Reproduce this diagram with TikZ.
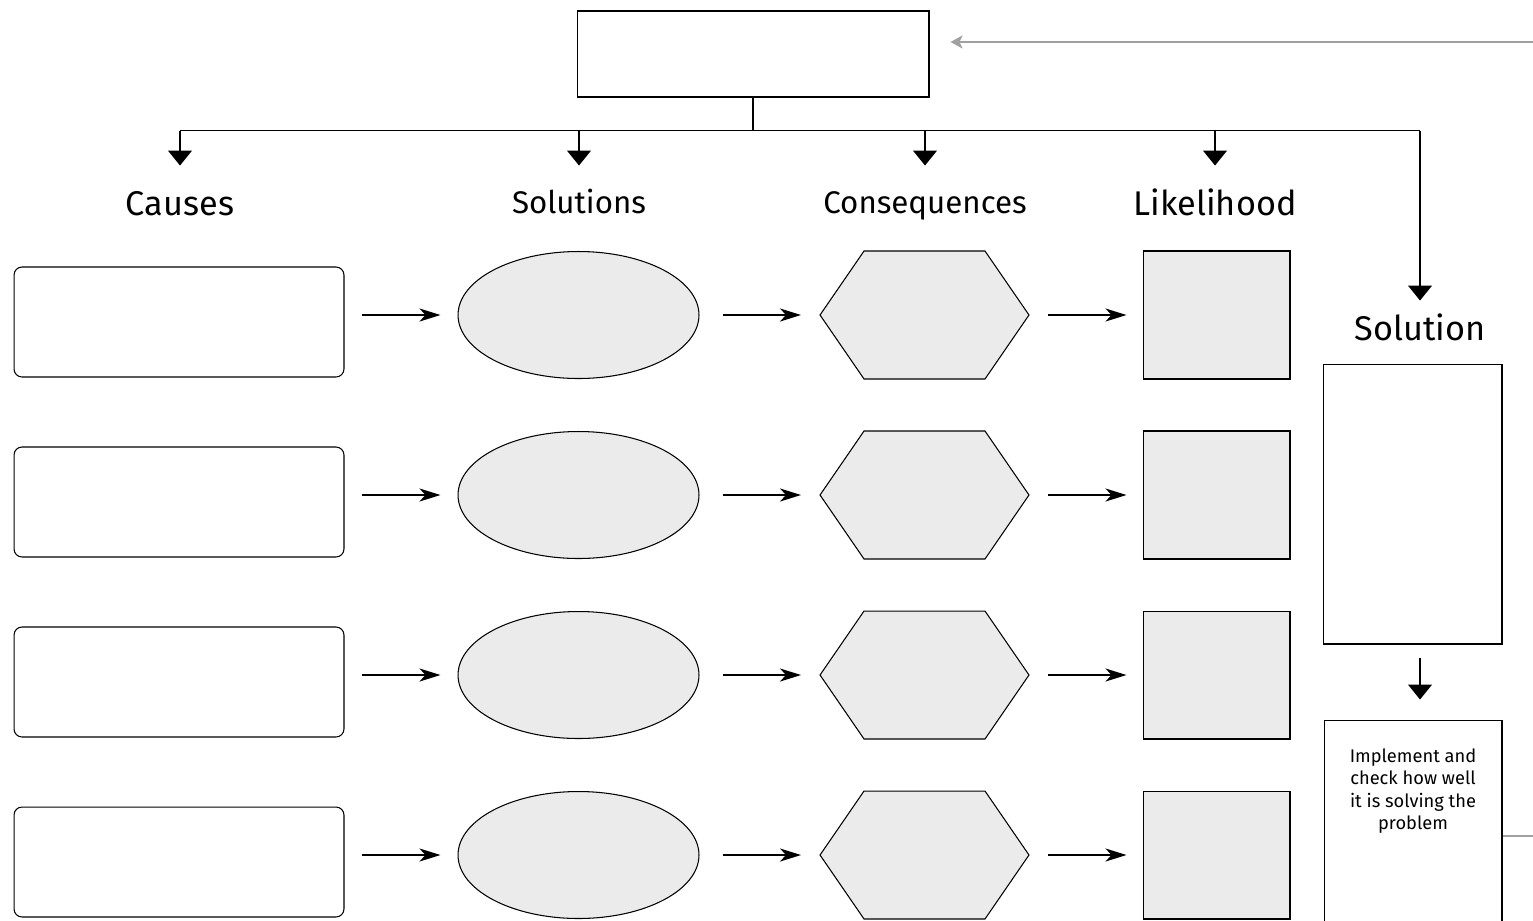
\documentclass[tikz,border=0pt]{standalone}
\usepackage{fontspec}
\setmainfont{Fira Sans}
\usepackage{tikz}
\usetikzlibrary{arrows.meta, calc, positioning, shapes}
\definecolor{shapegray}{HTML}{EBEBEB}
\definecolor{loopgray}{HTML}{A0A0A0}

\begin{document}
\begin{tikzpicture}[x=.02cm, y=-.02cm,
		box/.style={draw, line width=.6pt},
		causebox/.style={box, rounded corners=.16cm, minimum width=6.6cm, minimum height=2.2cm},
		solshape/.style={box, ellipse, fill=shapegray, minimum width=4.82cm, minimum height=2.54cm},
		hexbox/.style={outer sep=0pt, minimum width=4.18cm, minimum height=2.56cm},
		likebox/.style={box, fill=shapegray, minimum width=2.94cm, minimum height=2.56cm},
		head/.style={anchor=base, font=\fontsize{19.5}{22}\selectfont},
		headsm/.style={anchor=base, font=\fontsize{17.8}{21}\selectfont},
		branch/.style={line width=.6pt, -{Triangle[width=.48cm, length=.3cm]}},
		rowarrow/.style={line width=1.2pt, -{Stealth[length=.42cm, width=.26cm, inset=.12cm]}},
		loopline/.style={draw=loopgray, line width=1.4pt, -{Stealth[length=.24cm, width=.26cm, inset=.06cm]}}]
	\useasboundingbox (0,0) rectangle (1533,920);
	\clip (0,0) rectangle (1533,920);

	\node[box, minimum width=7.04cm, minimum height=1.72cm] (issue) at (753,54) {};

	\node[head] (hcause) at (180,215) {Causes};
	\node[headsm] (hsols) at (579,213) {Solutions};
	\node[headsm] (hcons) at (925,213) {Consequences};
	\node[head] (hlike) at (1215,215) {Likelihood};
	\node[head] (hsolution) at (1420,340) {Solution};

	\draw[line width=.6pt] (issue.south) -- ++(0,33) coordinate (split);
	\draw[line width=.6pt] (hcause |- split) -- (hsolution |- split);
	\foreach \h in {hcause, hsols, hcons, hlike}
		\draw[branch] (\h |- split) -- ++(0,35);
	\draw[branch] (hsolution |- split) -- ++(0,170);

	\foreach \y [count=\i] in {315,495,675,855} {
		\node[causebox] (cause\i) at (179,{\y+7}) {};
		\node[solshape] (sol\i) at (578.5,\y) {};
		\node[hexbox] (cons\i) at (924.5,\y) {};
		\draw[box, fill=shapegray] (cons\i.west) -- ([xshift=.88cm]cons\i.north west)
			-- ([xshift=-.88cm]cons\i.north east) -- (cons\i.east)
			-- ([xshift=-.88cm]cons\i.south east) -- ([xshift=.88cm]cons\i.south west) -- cycle;
		\node[likebox] (like\i) at (1216.5,\y) {};
		\draw[rowarrow, shorten <=.36cm, shorten >=.34cm] (cause\i.east |- sol\i) -- (sol\i);
		\draw[rowarrow, shorten <=.46cm, shorten >=.38cm] (sol\i) -- (cons\i);
		\draw[rowarrow, shorten <=.38cm, shorten >=.32cm] (cons\i) -- (like\i);
	}

	\node[box, minimum width=3.58cm, minimum height=5.6cm] (solbox) at (1412.5,504) {};
	\node[box, minimum width=3.56cm, minimum height=4.64cm] (impl) at (1413,836) {};
	\node[font=\fontsize{10.4}{12.8}\selectfont, align=center, anchor=north] (impltext)
		at ([yshift=-.46cm]impl.north) {Implement and\\check how well\\it is solving the\\problem};
	\draw[branch, shorten <=.26cm, shorten >=.4cm] (solbox.south -| hsolution) -- (impl.north -| hsolution);

	\draw[loopline, shorten >=.42cm] (impl.east) -- ++(60,0) |- ([yshift=.24cm]issue.east);
\end{tikzpicture}
\end{document}
